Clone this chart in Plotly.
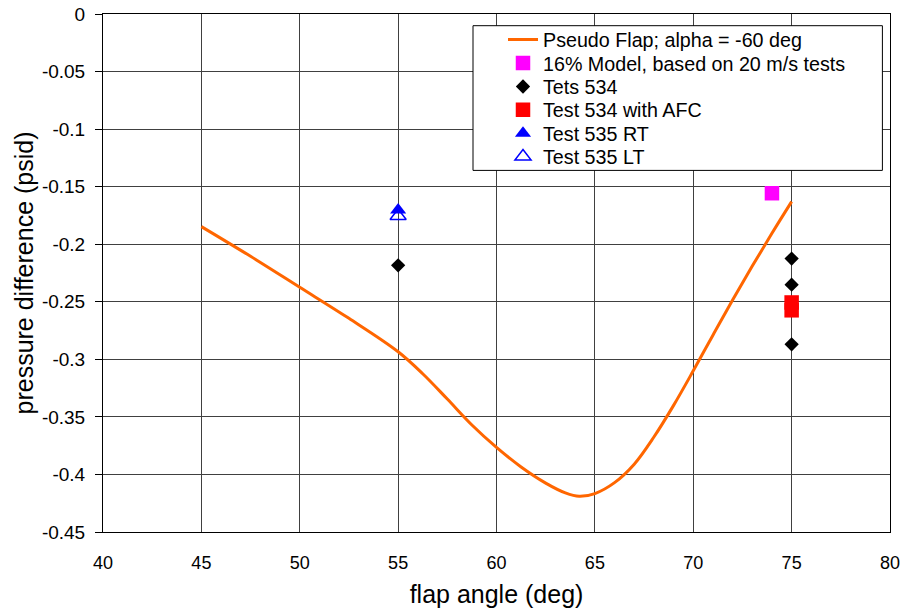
import plotly.graph_objects as go

# ---- data ----
curve_x = [45, 47.5, 50, 52.5, 55, 56.25, 57.5, 58.75, 60, 61.25, 62.5, 63.5, 64.2,
           65, 66, 67, 68, 69, 70, 71, 72, 73, 74, 75]
curve_y = [-0.1847, -0.2105, -0.2374, -0.2644, -0.2934, -0.3125, -0.3345, -0.357,
           -0.3765, -0.3935, -0.4075, -0.416, -0.419, -0.4166, -0.4071, -0.3911,
           -0.3675, -0.340, -0.310, -0.279, -0.2485, -0.219, -0.1905, -0.163]

model16_x = [74]
model16_y = [-0.1557]

test534_x = [55, 75, 75, 75]
test534_y = [-0.2183, -0.2125, -0.2351, -0.287]

test534afc_x = [75, 75]
test534afc_y = [-0.2506, -0.2574]

test535rt_x = [55]
test535rt_y = [-0.1703]

test535lt_x = [55]
test535lt_y = [-0.1755]

names = ["Pseudo Flap; alpha = -60 deg", "16% Model, based on 20 m/s tests",
         "Tets 534", "Test 534 with AFC", "Test 535 RT", "Test 535 LT"]

x_ticks = [40, 45, 50, 55, 60, 65, 70, 75, 80]
y_ticks = [0, -0.05, -0.1, -0.15, -0.2, -0.25, -0.3, -0.35, -0.4, -0.45]
y_ticktext = ["0", "-0.05", "-0.1", "-0.15", "-0.2", "-0.25", "-0.3", "-0.35", "-0.4", "-0.45"]

FONT = "Liberation Sans, Arial, sans-serif"

fig = go.Figure()
fig.add_trace(go.Scatter(x=curve_x, y=curve_y, mode="lines", name=names[0],
                         line=dict(color="#FF6600", width=3, shape="spline"),
                         legend="legend"))
fig.add_trace(go.Scatter(x=model16_x, y=model16_y, mode="markers", name=names[1],
                         marker=dict(symbol="square", color="#FF00FF", size=14.5),
                         legend="legend2"))
fig.add_trace(go.Scatter(x=test534_x, y=test534_y, mode="markers", name=names[2],
                         marker=dict(symbol="diamond", color="black", size=11),
                         legend="legend3"))
fig.add_trace(go.Scatter(x=test534afc_x, y=test534afc_y, mode="markers", name=names[3],
                         marker=dict(symbol="square", color="#FF0000", size=14.5),
                         legend="legend4"))
fig.add_trace(go.Scatter(x=test535lt_x, y=test535lt_y, mode="markers", name=names[5],
                         marker=dict(symbol="triangle-up-open", color="#0000FF", size=14,
                                     line=dict(width=1.5, color="#0000FF")),
                         legend="legend6"))
fig.add_trace(go.Scatter(x=test535rt_x, y=test535rt_y, mode="markers", name=names[4],
                         marker=dict(symbol="triangle-up", color="#0000FF", size=14),
                         legend="legend5"))

# legend rows (pixel centres measured from the plot-area top -> paper coordinates)
H = 518.0
W = 787.0
row_px = [25.7, 49.2, 72.7, 96.0, 119.4, 142.7]
leg_x = 400.0 / W
legend_layouts = {}
for i, py in enumerate(row_px):
    key = "legend" if i == 0 else f"legend{i+1}"
    legend_layouts[key] = dict(
        x=leg_x, xanchor="left", y=(H - py) / H, yanchor="middle",
        bgcolor="rgba(0,0,0,0)", borderwidth=0,
        font=dict(family=FONT, size=19.7, color="black"),
    )

fig.update_layout(
    width=904, height=609,
    margin=dict(l=103, r=14, t=14, b=77, autoexpand=False),
    paper_bgcolor="white", plot_bgcolor="white",
    font=dict(family=FONT, color="black"),
    showlegend=True,
    shapes=[dict(type="rect", xref="paper", yref="paper",
                 x0=370.0 / W, x1=779.4 / W,
                 y0=(H - 156.4) / H, y1=(H - 11.7) / H,
                 line=dict(color="black", width=1), fillcolor="white", layer="above")],
    **legend_layouts,
)

fig.update_xaxes(
    range=[40, 80], tickvals=x_ticks, ticks="", showgrid=True, gridcolor="#404040",
    gridwidth=1, zeroline=False, showline=True, linecolor="black", linewidth=1,
    mirror=True, tickfont=dict(family=FONT, size=18, color="black"),
    ticklabelstandoff=14, ticklabeloverflow="allow", automargin=False,
    title=dict(text="flap angle (deg)", font=dict(family=FONT, size=25, color="black"),
               standoff=13),
)
fig.update_yaxes(
    range=[-0.45, 0], tickvals=y_ticks, ticktext=y_ticktext, ticks="outside", ticklen=7,
    tickcolor="black", showgrid=True, gridcolor="#404040", gridwidth=1, zeroline=False,
    showline=True, linecolor="black", linewidth=1, mirror=True,
    tickfont=dict(family=FONT, size=19, color="black"), ticklabelstandoff=6,
    ticklabeloverflow="allow", automargin=False,
    title=dict(text="pressure difference (psid)",
               font=dict(family=FONT, size=25, color="black"), standoff=1),
)

fig.write_html("out.html", config={"displayModeBar": False},
               post_script="document.body.style.margin = '0px';")
